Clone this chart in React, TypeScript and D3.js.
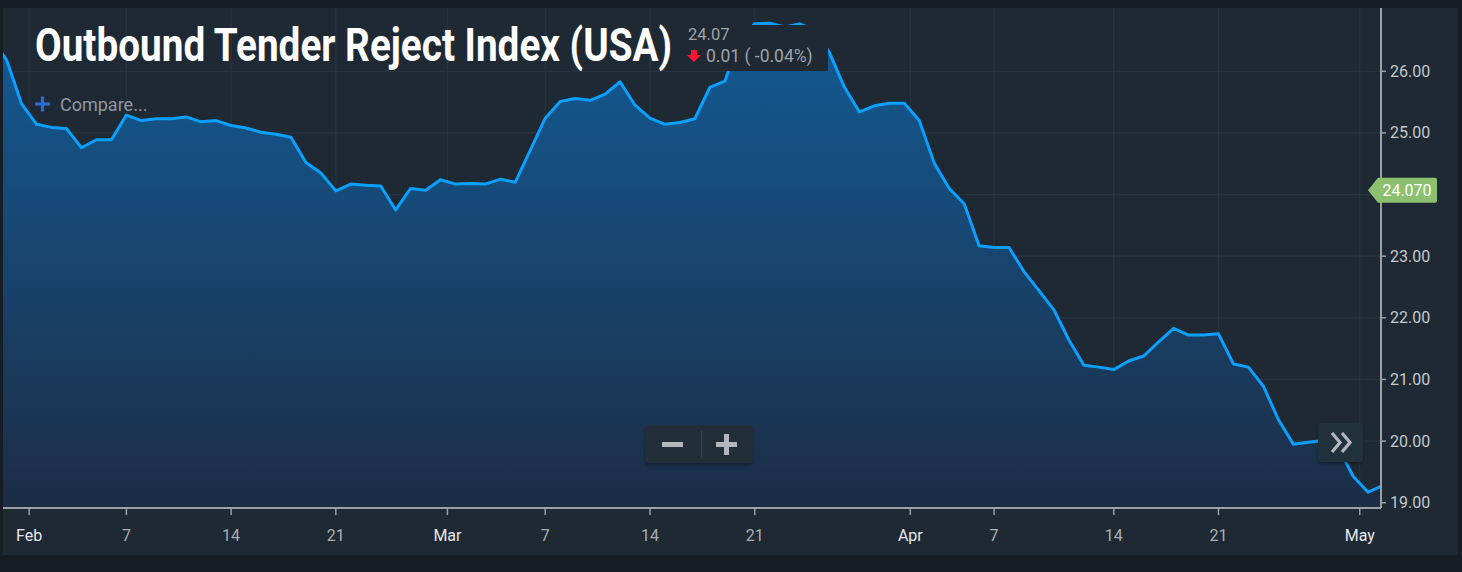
import React, { useLayoutEffect, useRef, useState } from "react";
import * as d3 from "d3";

// ---- data (index positions are ordinal trading points) ----
const values: number[] = [
  26.54, 26.18, 25.47, 25.14, 25.09, 25.07, 24.76, 24.89, 24.89, 25.29,
  25.2, 25.23, 25.23, 25.26, 25.18, 25.2, 25.12, 25.08, 25.01, 24.98,
  24.93, 24.52, 24.35, 24.06, 24.17, 24.15, 24.14, 23.75, 24.1, 24.07,
  24.24, 24.17, 24.18, 24.17, 24.25, 24.2, 24.72, 25.24, 25.51, 25.56,
  25.53, 25.63, 25.83, 25.45, 25.24, 25.14, 25.17, 25.23, 25.74, 25.84,
  26.51, 26.77, 26.78, 26.72, 26.77, 26.67, 26.3, 25.74, 25.34, 25.44,
  25.48, 25.48, 25.2, 24.51, 24.1, 23.85, 23.17, 23.14, 23.14, 22.75,
  22.44, 22.13, 21.64, 21.23, 21.2, 21.16, 21.3, 21.38, 21.61, 21.83,
  21.72, 21.72, 21.74, 21.25, 21.2, 20.89, 20.35, 19.95, 19.98, 20.01,
  19.89, 19.43, 19.17, 19.28,
];
const xTickLabels: string[] = ["Feb", "7", "14", "21", "Mar", "7", "14", "21", "Apr", "7", "14", "21", "May"];
const xTickPos: number[] = [2.5, 9, 16, 23, 30.46, 37, 44, 51, 61.4, 67, 75, 82, 91.44];
const monthLabels = new Set(["Feb", "Mar", "Apr", "May"]);
const yTicks: number[] = [19, 20, 21, 22, 23, 24, 25, 26];
const lastValueNum = 24.07;
const lastValue = "24.070";
const tipValue = "24.07";
const tipChange = "0.01 ( -0.04%)";
const title = "Outbound Tender Reject Index (USA)";

export default function App() {
  const W = 1462, H = 572;
  const panel = { x: 3, y: 8, w: 1455, h: 547 };
  const plot = { left: 3, right: 1381, top: 8, bottom: 508 };

  const x = d3.scaleLinear().domain([1, 92]).range([6.7, 1368.1]);
  const y = d3.scaleLinear().domain([19, 26]).range([502.7, 71.3]);

  const line = d3.line<number>().x((_, i) => x(i)).y((d) => y(d));
  const area = d3.area<number>().x((_, i) => x(i)).y0(plot.bottom).y1((d) => y(d));

  const font = "Roboto, 'Noto Sans', sans-serif";
  const ly = y(lastValueNum);
  // tick labels hidden behind the last-value flag
  const yLabelTicks = yTicks.filter((t) => Math.abs(y(t) - ly) > 14);

  // condensed title: scale horizontally to the target width
  const titleRef = useRef<SVGTextElement | null>(null);
  const [titleScale, setTitleScale] = useState(0.84);
  useLayoutEffect(() => {
    if (titleRef.current) {
      const w = titleRef.current.getComputedTextLength();
      if (w > 0) setTitleScale(637 / w);
    }
  }, []);

  return (
    <svg width={W} height={H} style={{ position: "absolute", left: 0, top: 0, display: "block" }}>
      <defs>
        <linearGradient id="af" x1="0" y1={20} x2="0" y2={plot.bottom} gradientUnits="userSpaceOnUse">
          <stop offset="0" stopColor="#135b95" />
          <stop offset="1" stopColor="#1c2d45" />
        </linearGradient>
        <clipPath id="pc">
          <rect x={plot.left} y={plot.top} width={plot.right - plot.left} height={plot.bottom - plot.top} />
        </clipPath>
        <filter id="sh" x="-20%" y="-20%" width="140%" height="160%">
          <feDropShadow dx="0" dy="2" stdDeviation="1.5" floodColor="#000" floodOpacity="0.35" />
        </filter>
      </defs>
      <rect x={0} y={0} width={W} height={H} fill="#161d25" />
      <rect x={panel.x} y={panel.y} width={panel.w} height={panel.h} fill="#1e2934" />

      {/* grid */}
      <g stroke="#27343f" strokeWidth={1.2}>
        {xTickPos.map((p, i) => (
          <line key={"gx" + i} x1={x(p)} x2={x(p)} y1={plot.top} y2={plot.bottom} />
        ))}
        {yTicks.map((t) => (
          <line key={"gy" + t} x1={plot.left} x2={plot.right} y1={y(t)} y2={y(t)} />
        ))}
      </g>

      {/* series */}
      <g clipPath="url(#pc)">
        <path d={area(values) || ""} fill="url(#af)" />
        <path d={line(values) || ""} fill="none" stroke="#0aa0ff" strokeWidth={3} strokeLinejoin="round" />
      </g>

      {/* axes */}
      <line x1={plot.left} x2={plot.right} y1={plot.bottom} y2={plot.bottom} stroke="#9aa0a6" strokeWidth={2} />
      <line x1={plot.right} x2={plot.right} y1={plot.top} y2={plot.bottom} stroke="#9aa0a6" strokeWidth={2} />
      {xTickPos.map((p, i) => (
        <g key={"xt" + i}>
          <line x1={x(p)} x2={x(p)} y1={plot.bottom} y2={plot.bottom + 7} stroke="#9aa0a6" strokeWidth={1.5} />
          <text
            x={x(p)}
            y={541}
            textAnchor="middle"
            fontFamily={font}
            fontSize={16}
            fill={monthLabels.has(xTickLabels[i]) ? "#e6e8ea" : "#a9adb1"}
          >
            {xTickLabels[i]}
          </text>
        </g>
      ))}
      {yTicks.map((t) => (
        <line key={"ytk" + t} x1={plot.right} x2={plot.right + 5} y1={y(t)} y2={y(t)} stroke="#9aa0a6" strokeWidth={1.5} />
      ))}
      {yLabelTicks.map((t) => (
        <text key={"yt" + t} x={1390} y={y(t) + 5.5} fontFamily={font} fontSize={16} fill="#c4c8cc">
          {t.toFixed(2)}
        </text>
      ))}

      {/* last value label */}
      <path
        d={`M1368,${ly} L1378,${ly - 12.5} L1435,${ly - 12.5} Q1437,${ly - 12.5} 1437,${ly - 10.5} L1437,${ly + 10.5} Q1437,${ly + 12.5} 1435,${ly + 12.5} L1378,${ly + 12.5} Z`}
        fill="#8cbf70"
      />
      <text x={1407} y={ly + 5.5} textAnchor="middle" fontFamily={font} fontSize={16} fill="#ffffff">
        {lastValue}
      </text>

      {/* tooltip box */}
      <rect x={679} y={25} width={149} height={46} fill="#1e2934" />
      <text x={688} y={40} fontFamily={font} fontSize={16.5} fill="#9ea2a7">{tipValue}</text>
      <path d="M691,50 L697,50 L697,55 L701,55 L694,62 L687,55 L691,55 Z" fill="#ff1530" />
      <text x={706} y={62} fontFamily={font} fontSize={17.5} fill="#9ea2a7">{tipChange}</text>

      {/* title */}
      <g transform={`translate(35,61) scale(${titleScale},1)`}>
        <text ref={titleRef} x={0} y={0} fontFamily={font} fontWeight={700} fontSize={46} fill="#ffffff">
          {title}
        </text>
      </g>

      {/* compare */}
      <g stroke="#2c6ad8" strokeWidth={3.2}>
        <line x1={35} x2={50} y1={104} y2={104} />
        <line x1={42.5} x2={42.5} y1={96.5} y2={111.5} />
      </g>
      <text x={60} y={110.5} fontFamily={font} fontSize={18} fill="#9196a0">Compare...</text>

      {/* zoom buttons */}
      <rect x={645} y={425} width={108} height={38} rx={4} fill="#222e39" filter="url(#sh)" />
      <line x1={701.5} x2={701.5} y1={431} y2={457} stroke="#3b4853" strokeWidth={1} />
      <rect x={662} y={442} width={21} height={5} fill="#b3b7bb" />
      <rect x={716} y={442} width={21} height={5} fill="#b3b7bb" />
      <rect x={724} y={434} width={5} height={21} fill="#b3b7bb" />

      {/* scroll button */}
      <rect x={1318} y={423} width={45} height={39} rx={4} fill="#24313c" filter="url(#sh)" />
      <g fill="none" stroke="#b3b7bb" strokeWidth={3.2}>
        <polyline points="1332,433 1340,442.5 1332,452" />
        <polyline points="1342,433 1350,442.5 1342,452" />
      </g>
    </svg>
  );
}
